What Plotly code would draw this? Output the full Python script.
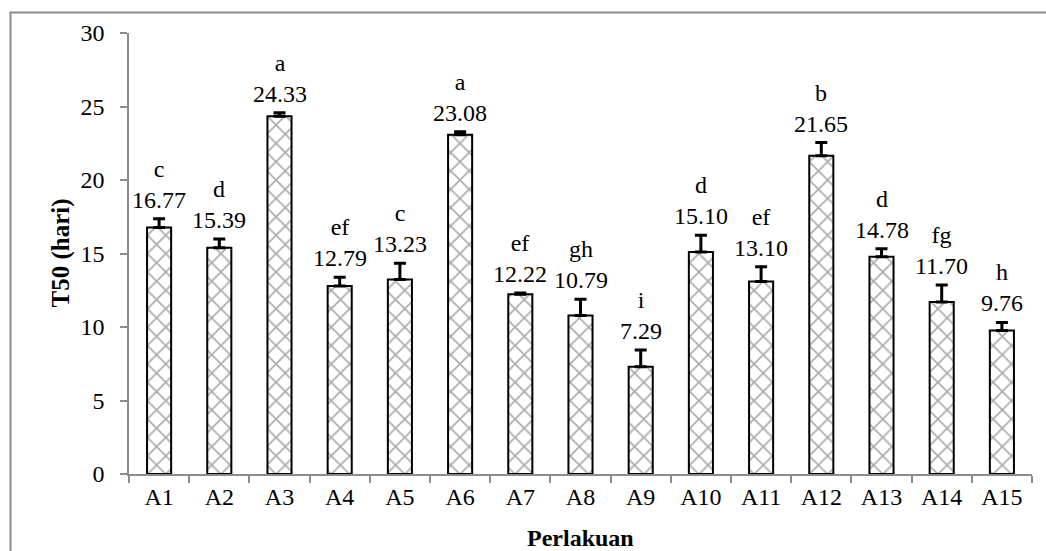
import plotly.graph_objects as go

# Treatments, mean T50 (days), upper error and significance letters
perlakuan = ["A1", "A2", "A3", "A4", "A5", "A6", "A7", "A8",
             "A9", "A10", "A11", "A12", "A13", "A14", "A15"]
t50 = [16.77, 15.39, 24.33, 12.79, 13.23, 23.08, 12.22, 10.79,
       7.29, 15.10, 13.10, 21.65, 14.78, 11.70, 9.76]
galat = [0.60, 0.60, 0.25, 0.60, 1.10, 0.20, 0.10, 1.10,
         1.15, 1.15, 1.00, 0.90, 0.55, 1.15, 0.55]
notasi = ["c", "d", "a", "ef", "c", "a", "ef", "gh",
          "i", "d", "ef", "b", "d", "fg", "h"]
y_ticks = [0, 5, 10, 15, 20, 25, 30]

FONT = "'Liberation Serif', 'Times New Roman', serif"
AXIS_GREY = "#8c8c8c"

fig = go.Figure()
fig.add_trace(go.Bar(
    x=perlakuan,
    y=t50,
    width=0.4,
    marker=dict(
        color="white",
        line=dict(color="black", width=2),
        pattern=dict(shape="x", fgcolor="#5a5a5a", bgcolor="white",
                     size=13, solidity=0.25),
    ),
    error_y=dict(type="data", symmetric=False, array=galat,
                 arrayminus=[0] * len(galat),
                 color="black", thickness=3, width=6),
    hoverinfo="skip",
))

# Significance letter above the mean value, both sitting over the error bar
for k, v, e, n in zip(perlakuan, t50, galat, notasi):
    fig.add_annotation(
        x=k, y=v + e, xref="x", yref="y",
        text=f"{n}<br>{v:.2f}", showarrow=False,
        yanchor="bottom", yshift=4,
        font=dict(family=FONT, size=24, color="black"),
    )

# Rotated y-axis title and bottom x-axis title
fig.add_annotation(
    x=(60 - 129) / 903, y=0.5, xref="paper", yref="paper",
    text="<b>T50 (hari)</b>", textangle=-90, showarrow=False,
    xanchor="center", yanchor="middle",
    font=dict(family=FONT, size=25, color="black"),
)
fig.add_annotation(
    x=0.5, y=-(538 - 474) / 441, xref="paper", yref="paper",
    text="<b>Perlakuan</b>", showarrow=False,
    xanchor="center", yanchor="middle",
    font=dict(family=FONT, size=24, color="black"),
)

# Chart-area frame
fig.add_shape(
    type="rect", xref="paper", yref="paper",
    x0=(10.5 - 129) / 903, x1=1.2, y0=-0.3, y1=1 + (33 - 12.5) / 441,
    line=dict(color=AXIS_GREY, width=2), fillcolor="rgba(0,0,0,0)",
    layer="below",
)

fig.update_layout(
    width=1046, height=551,
    margin=dict(l=129, r=14, t=33, b=77),
    paper_bgcolor="white", plot_bgcolor="white",
    showlegend=False,
    bargap=0.6,
    font=dict(family=FONT, size=22, color="black"),
)
fig.update_xaxes(
    type="category",
    showline=True, linecolor=AXIS_GREY, linewidth=1.5,
    ticks="outside", tickson="boundaries", ticklen=7,
    tickcolor=AXIS_GREY, tickwidth=1.5,
    showgrid=False, zeroline=False,
    tickfont=dict(family=FONT, size=24, color="black"),
)
fig.update_yaxes(
    range=[0, 30], tickvals=y_ticks,
    showline=True, linecolor=AXIS_GREY, linewidth=1.5,
    ticks="outside", ticklen=7, tickcolor=AXIS_GREY, tickwidth=1.5,
    ticklabelstandoff=11,
    showgrid=False, zeroline=False,
    tickfont=dict(family=FONT, size=24, color="black"),
)

fig.write_html("out.html")
